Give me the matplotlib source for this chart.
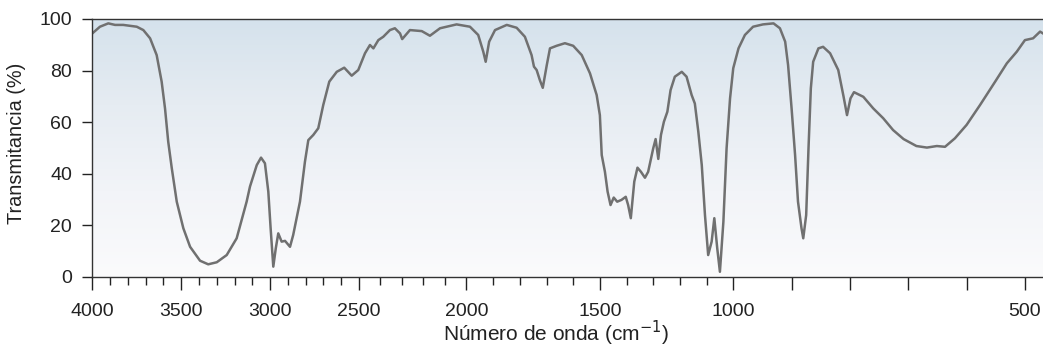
import numpy as np
import matplotlib
matplotlib.use('Agg')
import matplotlib.pyplot as plt
from matplotlib.colors import LinearSegmentedColormap

plt.rcParams['font.family'] = ['Liberation Sans', 'DejaVu Sans']

# IR spectrum (wavenumber in cm-1, transmittance in %)
wavenumber = [4000, 3957, 3910, 3872, 3826, 3750, 3713, 3675, 3638, 3610,
              3591, 3573, 3553, 3525, 3488, 3450, 3394, 3348, 3300, 3244,
              3188, 3132, 3113, 3075, 3051, 3029, 3010, 2997, 2982, 2968,
              2954, 2935, 2916, 2888, 2870, 2832, 2804, 2785, 2757, 2729,
              2701, 2667, 2625, 2583, 2541, 2504, 2472, 2449, 2433, 2410,
              2387, 2356, 2333, 2309, 2299, 2263, 2208, 2170, 2123, 2046,
              1987, 1956, 1937, 1928, 1915, 1893, 1849, 1812, 1781, 1756,
              1747, 1737, 1725, 1714, 1699, 1687, 1662, 1631, 1600, 1568,
              1537, 1512, 1500, 1493, 1481, 1471, 1460, 1448, 1435, 1419,
              1403, 1394, 1384, 1371, 1359, 1346, 1331, 1319, 1300, 1291,
              1281, 1271, 1260, 1247, 1235, 1219, 1193, 1175, 1156, 1144,
              1131, 1118, 1106, 1094, 1081, 1071, 1060, 1050, 1037, 1025,
              1012, 1000, 991, 980, 966, 949, 931, 920, 911, 906,
              900, 894, 889, 883, 880, 875, 871, 867, 863, 854,
              846, 834, 820, 811, 805, 799, 793, 777, 760, 743,
              726, 708, 686, 668, 651, 637, 620, 600, 577, 551,
              531, 514, 500, 486, 474, 469]
transmittance = [94.4, 97.0, 98.3, 97.7, 97.7, 97.0, 95.7, 92.5, 86.0, 75.7,
                 65.3, 52.4, 42.1, 29.1, 18.8, 11.6, 6.2, 4.8, 5.6, 8.4,
                 14.9, 29.1, 35.0, 43.3, 46.2, 44.0, 33.0, 18.8, 3.9, 11.0,
                 16.8, 13.6, 13.9, 11.6, 16.2, 29.1, 44.6, 53.0, 55.0, 57.6,
                 66.6, 75.7, 79.5, 81.1, 78.0, 80.2, 86.7, 89.9, 88.6, 91.8,
                 93.1, 95.7, 96.4, 94.4, 92.2, 95.7, 95.3, 93.5, 96.4, 97.9,
                 97.0, 93.8, 87.3, 83.4, 91.2, 95.7, 97.7, 96.6, 93.1, 86.0,
                 81.5, 80.2, 76.3, 73.3, 82.1, 88.6, 89.6, 90.6, 89.6, 86.0,
                 78.9, 70.5, 62.7, 47.2, 40.7, 33.0, 27.8, 30.7, 29.1, 29.8,
                 31.0, 27.8, 22.7, 36.9, 42.3, 40.7, 38.4, 40.7, 49.8, 53.4,
                 45.7, 55.0, 60.1, 64.0, 72.4, 77.6, 79.5, 77.6, 70.5, 67.2,
                 56.3, 43.3, 23.9, 8.4, 13.6, 22.7, 11.0, 1.9, 21.3, 49.8,
                 69.2, 80.9, 88.6, 93.8, 97.0, 97.9, 98.3, 96.4, 91.2, 82.1,
                 65.3, 47.2, 29.1, 18.8, 14.9, 23.9, 49.8, 73.1, 83.4, 88.6,
                 89.2, 86.7, 80.2, 70.0, 62.7, 69.2, 71.6, 69.8, 65.3, 61.5,
                 56.9, 53.4, 50.7, 50.1, 50.7, 50.4, 53.7, 58.9, 66.6, 75.7,
                 82.8, 87.3, 91.8, 92.5, 95.1, 94.4]

major_ticks = [4000, 3500, 3000, 2500, 2000, 1500, 1000, 900, 800, 700, 600, 500]
major_labels = ['4000', '3500', '3000', '2500', '2000', '1500', '1000', '', '', '', '', '500']
minor_ticks = [w for w in range(3900, 1000, -100) if w % 500 != 0]
y_ticks = [0, 20, 40, 60, 80, 100]

# piecewise-linear wavenumber axis (relative lengths as in the printed chart)
scale_nu = [4100, 4000, 2500, 2000, 1000, 500, 400]
scale_pos = [-17.8, 0.0, 266.7, 374.2, 641.0, 932.7, 991.0]


def forward(nu):
    return -np.interp(nu, scale_nu[::-1], scale_pos[::-1])


def inverse(p):
    return np.interp(-np.asarray(p), scale_pos, scale_nu)


fig = plt.figure(figsize=(10.43, 3.49), dpi=100)
ax = fig.add_axes([0.0885, 0.2072, 0.9115, 0.7384])

# soft blue-to-white background
bg = LinearSegmentedColormap.from_list('bg', ['#fbfbfc', '#f2f4f8', '#e6ecf2', '#d5e2ec'])
grad = np.linspace(0, 1, 256).reshape(-1, 1)
ax.imshow(grad, cmap=bg, aspect='auto', origin='lower', extent=[0, 1, 0, 1],
          transform=ax.transAxes, zorder=0)

ax.plot(wavenumber, transmittance, color='#707070', linewidth=1.8, zorder=2)

ax.set_xscale('function', functions=(forward, inverse))
ax.set_xlim(4000, 469)
ax.set_ylim(0, 100)

ax.set_xticks(major_ticks)
ax.set_xticklabels(major_labels)
ax.set_xticks(minor_ticks, minor=True)
ax.set_yticks(y_ticks)

ax.tick_params(axis='x', which='major', direction='out', length=9, width=1,
               labelsize=14, pad=10, colors='#222222')
ax.tick_params(axis='x', which='minor', direction='out', length=5.5, width=1,
               colors='#222222')
ax.tick_params(axis='y', direction='out', length=7.5, width=1, labelsize=14,
               pad=7, colors='#222222')

ax.spines['right'].set_visible(False)
for s in ['top', 'left', 'bottom']:
    ax.spines[s].set_color('#333333')
    ax.spines[s].set_linewidth(1.0)

ax.set_xlabel('Número de onda (cm$^{-1}$)', fontsize=15, color='#222222')
ax.set_ylabel('Transmitancia (%)', fontsize=14.3, color='#222222')
ax.xaxis.set_label_coords(0.4877, -0.165)
ax.yaxis.set_label_coords(-0.07, 0.517)

fig.savefig('out.png', dpi=100)
